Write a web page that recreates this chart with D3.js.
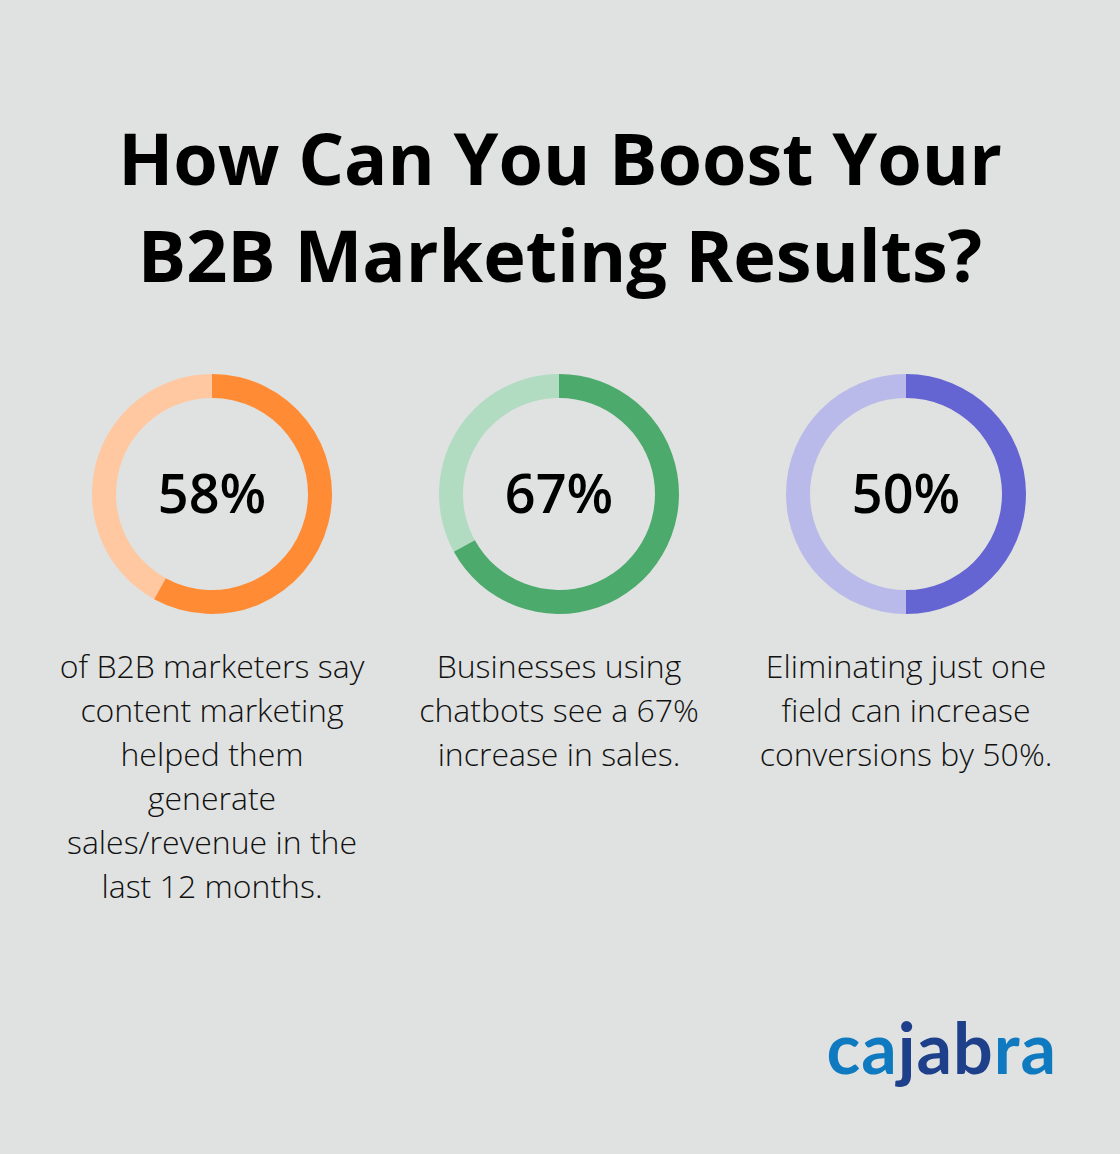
<!DOCTYPE html>
<html lang="en">
<head>
<meta charset="UTF-8" />
<title>B2B Marketing Results</title>
<script src="https://d3js.org/d3.v7.min.js"></script>
<style>
  body { margin: 0; background: #e0e2e1; }
  svg { display: block; font-family: "Open Sans", sans-serif; }
</style>
</head>
<body>
<script>
const values = [58, 67, 50];
const labels = ["58%", "67%", "50%"];
const mainColors = ["#ff8c35", "#4caa6c", "#6464d2"];
const lightColors = ["#ffc8a0", "#b2dcc2", "#babaea"];
const captions = [
  ["of B2B marketers say", "content marketing", "helped them", "generate", "sales/revenue in the", "last 12 months."],
  ["Businesses using", "chatbots see a 67%", "increase in sales."],
  ["Eliminating just one", "field can increase", "conversions by 50%."]
];
const titleLines = ["How Can You Boost Your", "B2B Marketing Results?"];

const W = 1120, H = 1154;
const svg = d3.select("body").append("svg").attr("width", W).attr("height", H);
svg.append("rect").attr("width", W).attr("height", H).attr("fill", "#e0e2e1");

svg.selectAll("text.title").data(titleLines).join("text")
    .attr("class", "title")
    .attr("x", W / 2).attr("y", (d, i) => 185 + i * 97)
    .attr("text-anchor", "middle")
    .attr("font-size", 72).attr("font-weight", 700).attr("fill", "#000")
    .text(d => d);

const x = d3.scalePoint().domain(d3.range(values.length)).range([212, 906]);
const angle = d3.scaleLinear().domain([0, 100]).range([0, 2 * Math.PI]);
const arc = d3.arc().innerRadius(96).outerRadius(120);

const g = svg.selectAll("g.donut").data(values).join("g")
    .attr("class", "donut")
    .attr("transform", (d, i) => `translate(${x(i)},494)`);

g.append("path")
    .attr("fill", (d, i) => lightColors[i])
    .attr("d", d => arc({ startAngle: angle(d), endAngle: angle(100) }));
g.append("path")
    .attr("fill", (d, i) => mainColors[i])
    .attr("d", d => arc({ startAngle: 0, endAngle: angle(d) }));
g.append("text")
    .attr("text-anchor", "middle").attr("dy", "0.35em")
    .attr("font-size", 54).attr("font-weight", 600).attr("fill", "#000")
    .text((d, i) => labels[i]);

g.append("text")
    .attr("text-anchor", "middle")
    .attr("font-size", 32).attr("font-weight", 300).attr("fill", "#111")
    .selectAll("tspan").data((d, i) => captions[i]).join("tspan")
    .attr("x", 0).attr("y", (d, j) => 184 + j * 44)
    .text(d => d);

const logo = svg.append("text")
    .attr("x", 1057).attr("y", 1074).attr("text-anchor", "end")
    .attr("font-size", 70).attr("font-weight", 700)
    .attr("font-family", "Lato, sans-serif").attr("letter-spacing", 1);
[["ca", "#0f7ac0"], ["jab", "#1e3f8a"], ["ra", "#0f7ac0"]].forEach(([t, c]) =>
  logo.append("tspan").attr("fill", c).text(t));
</script>
</body>
</html>
